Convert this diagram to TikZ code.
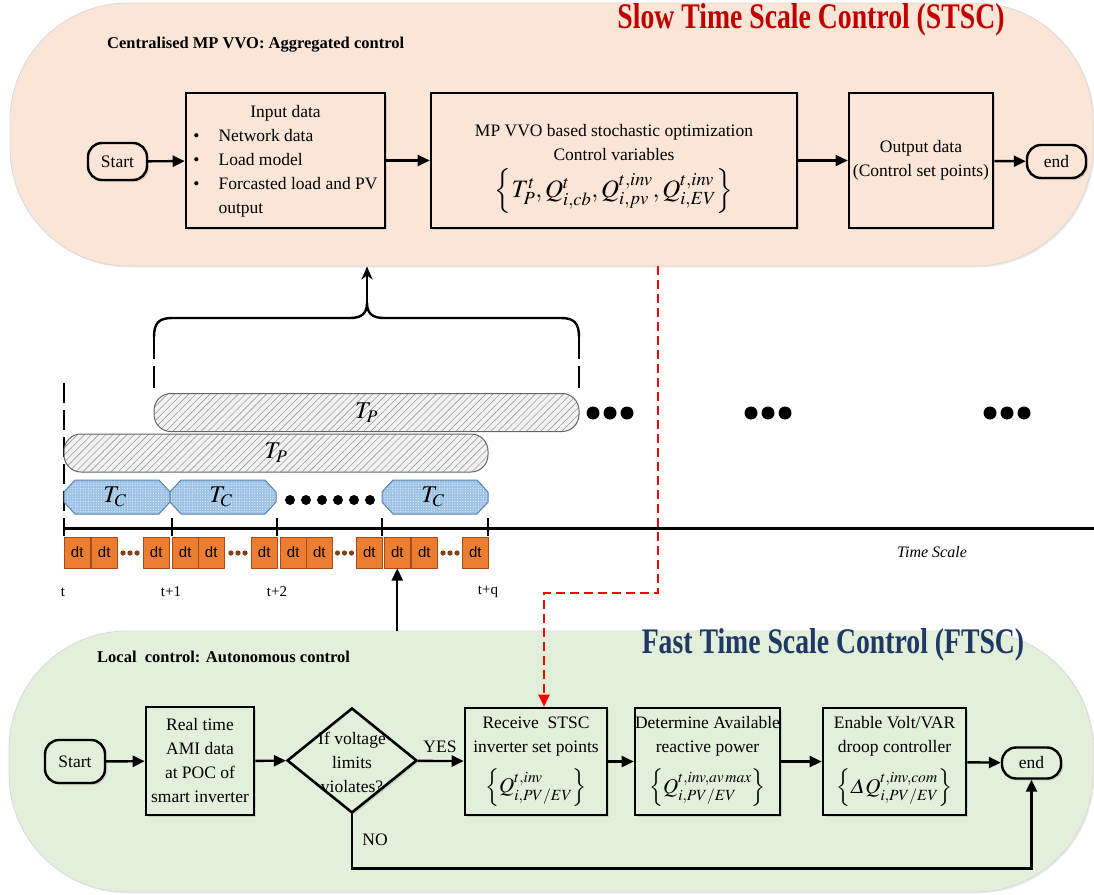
\documentclass[tikz,border=0pt]{standalone}
\usepackage{mathptmx}
\usepackage[no-math]{fontspec}
\setmainfont{Liberation Serif}
\newfontfamily\titlefont{Liberation Serif}[FakeStretch=0.77]
\newfontfamily\sansdt{Liberation Sans}
\DeclareMathSymbol{\itDelta}{\mathord}{letters}{"01}
\usetikzlibrary{shapes.geometric,arrows.meta,patterns.meta,calc,shadows}
\definecolor{peach}{HTML}{FBE5D6}
\definecolor{lgreen}{HTML}{E2EFDA}
\definecolor{stscred}{HTML}{C00000}
\definecolor{ftscblue}{HTML}{1F3864}
\definecolor{dtorange}{HTML}{ED7D31}
\definecolor{dtborder}{HTML}{9E4F1B}
\definecolor{tcblue}{HTML}{9DC3E6}
\definecolor{tcborder}{HTML}{5B7FA8}
\newcommand\mainfs{\fontsize{17.5}{24}\selectfont}
\newcommand\dtfs{\sansdt\fontsize{15}{18}\selectfont}
\newcommand\tfs{\fontsize{24}{28}\selectfont}
\newcommand\formfs{\fontsize{21}{25}\selectfont}
\tikzset{
  panel/.style={draw=black!15, line width=0.8pt, rounded corners=118pt, inner sep=0pt,
    drop shadow={opacity=0.15, shadow xshift=1.5pt, shadow yshift=-1.5pt}},
  fbox/.style={draw, line width=2.6pt, inner sep=0pt, align=center, font=\mainfs,
    drop shadow={opacity=0.25, shadow xshift=2pt, shadow yshift=-2pt}},
  term/.style={draw, line width=2.4pt, rounded corners=14pt, inner sep=0pt, font=\mainfs,
    drop shadow={opacity=0.25, shadow xshift=2pt, shadow yshift=-2pt}},
  flow/.style={line width=2.4pt, -{Triangle[length=12pt,width=11pt]}},
  uparrow/.style={line width=2.4pt, -{Stealth[length=13pt,width=11pt,inset=4pt]}},
  reddash/.style={draw=red, line width=2.2pt, dash pattern=on 9pt off 5pt,
    -{Triangle[length=12pt,width=11pt]}},
  tpbar/.style={draw=black!60, line width=1pt, rounded corners=17pt, inner sep=0pt,
    preaction={fill=black!5},
    pattern={Lines[angle=45,distance=5pt,line width=0.6pt]}, pattern color=black!40,
    font=\tfs},
  tcshape/.style={draw=tcborder, line width=1pt, preaction={fill=tcblue},
    pattern={Dots[distance=2.6pt,radius=0.55pt]}, pattern color=white!85!tcblue},
  dtbox/.style={draw=dtborder, line width=1pt, fill=dtorange, minimum width=26.5pt,
    minimum height=31pt, inner sep=0pt, font=\dtfs},
  tlbl/.style={font=\fontsize{15}{18}\selectfont, inner sep=0pt},
  lbl/.style={font=\mainfs, inner sep=0pt},
}
\begin{document}
\begin{tikzpicture}[x=1pt,y=-1pt]
\useasboundingbox (0,0) rectangle (1094,894);

% ---------- panels ----------
\node[panel, fill=peach, minimum width=1083pt, minimum height=263pt] (stsc) at (551.5,134.5) {};
\node[panel, fill=lgreen, minimum width=1084pt, minimum height=261pt] (ftsc) at (551,761.5) {};

\node[font=\titlefont\bfseries\fontsize{36}{40}\selectfont, text=stscred, inner sep=0pt] (stsct) at (811,20) {Slow Time Scale Control (STSC)};
\node[font=\titlefont\bfseries\fontsize{36}{40}\selectfont, text=ftscblue, inner sep=0pt] (ftsct) at (833,645) {Fast Time Scale Control (FTSC)};
\node[font=\bfseries\fontsize{16.5}{20}\selectfont, anchor=west, inner sep=0pt] (cmp) at (107,45) {Centralised MP VVO: Aggregated control};
\node[font=\bfseries\fontsize{16.5}{20}\selectfont, anchor=west, inner sep=0pt] (loc) at (97,657) {Local\ \ control: Autonomous control};

% ---------- top flow ----------
\node[term, fill=peach, minimum width=59pt, minimum height=37pt] (startA) at (117.5,161.5) {Start};
\node[fbox, fill=peach, minimum width=199pt, minimum height=135pt] (inp) at (285.5,160.5)
  {\begin{tabular}{@{}l@{\hspace{19pt}}l@{}}
   \multicolumn{2}{c}{Input data}\\
   \textbullet & Network data\\
   \textbullet & Load model\\
   \textbullet & Forcasted load and PV\\
   & output
   \end{tabular}};
\node[fbox, fill=peach, minimum width=366pt, minimum height=135pt] (mpv) at (614,160.5) {};
\node[align=center, font=\mainfs, inner sep=0pt] (mpvt) at (614,169)
  {MP VVO based stochastic optimization\\ Control variables\\[7pt]
   {\fontsize{25}{28}\selectfont $\left\{T_P^t, Q_{i,cb}^t, Q_{i,pv}^{t,inv}, Q_{i,EV}^{t,inv}\right\}$}};
\node[fbox, fill=peach, minimum width=144pt, minimum height=135pt] (outp) at (921,160.5)
  {Output data\\(Control set points)};
\node[term, fill=peach, minimum width=59pt, minimum height=33pt] (endA) at (1056.5,161.5) {end};

\draw[flow] (startA) -- (inp);
\draw[flow] (inp) -- (mpv);
\draw[flow] (mpv) -- (outp);
\draw[flow] (outp) -- (endA);

% ---------- bottom flow ----------
\node[term, fill=lgreen, minimum width=60pt, minimum height=43pt] (startB) at (75,761.5) {Start};
\node[fbox, fill=lgreen, minimum width=108pt, minimum height=108pt] (rt) at (200,761)
  {Real time\\AMI data\\at POC of\\smart inverter};
\node[diamond, draw, line width=2.6pt, fill=lgreen, minimum width=130pt, minimum height=105pt,
  inner sep=0pt, drop shadow={opacity=0.25, shadow xshift=2pt, shadow yshift=-2pt}] (dia) at (352,760.5) {};
\node[lbl, align=center] (diat) at (352,762) {If voltage\\limits\\violates?};
\node[fbox, fill=lgreen, minimum width=142pt, minimum height=107pt] (rcv) at (536,761.5)
  {Receive\ \ STSC\\inverter set points\\[12pt]
   {\formfs $\left\{Q_{i,PV/EV}^{t,inv}\right\}$}};
\node[fbox, fill=lgreen, minimum width=141pt, minimum height=107pt] (det) at (707.5,761.5)
  {Determine Available\\reactive power\\[12pt]
   {\formfs $\left\{Q_{i,PV/EV}^{t,inv,av\,max}\right\}$}};
\node[fbox, fill=lgreen, minimum width=143pt, minimum height=107pt] (enb) at (894.5,761.5)
  {Enable Volt/VAR\\droop controller\\[12pt]
   {\formfs $\left\{\itDelta Q_{i,PV/EV}^{t,inv,com}\right\}$}};
\node[term, fill=lgreen, minimum width=59pt, minimum height=31pt] (endB) at (1031.5,763) {end};

\draw[flow] (startB) -- (rt);
\draw[flow] (rt) -- (dia);
\draw[flow] (dia) -- (rcv);
\draw[flow] (rcv) -- (det);
\draw[flow] (det) -- (enb);
\draw[flow] (enb) -- (endB);
\draw[flow] (dia.south) -- ++(0,54) -| (endB.south);
\node[lbl] (yes) at (440,747) {YES};
\node[lbl] (no) at (375,840) {NO};

% ---------- time scale ----------
\draw[line width=2.4pt, dash pattern=on 20pt off 7pt] (64,383) -- (64,528);
\draw[line width=2.4pt, dash pattern=on 22pt off 7pt] (154,337) -- (154,392);
\draw[line width=2.4pt, dash pattern=on 22pt off 7pt] (579,337) -- (579,392);
\draw[line width=2.4pt, line join=round]
  (154,337) .. controls (154,323) and (159,318) .. (172,318) -- (350,318)
  .. controls (362,318) and (367,313) .. (367,303)
  .. controls (367,313) and (372,318) .. (384,318) -- (561,318)
  .. controls (574,318) and (579,323) .. (579,337);
\coordinate (bt) at (367,303);
\draw[uparrow] (bt) -- (bt |- stsc.south);

\node[tpbar, minimum width=425pt, minimum height=38pt] (tp2) at (366.5,412.5) {$T_P$};
\node[tpbar, minimum width=424pt, minimum height=38pt] (tp1) at (276,453) {$T_P$};

\foreach \a/\b/\n in {64/170/1,170/276/2,382/488/3}{
  \path[tcshape] (\a,492) -- ({\a+11},480) -- ({\b-11},480) -- (\b,492) -- (\b,502)
     -- ({\b-11},514) -- ({\a+11},514) -- (\a,502) -- cycle;
  \node[font=\tfs, inner sep=0pt] (tc\n) at ({(\a+\b)/2-2},497) {$T_C$};
}
\foreach \x in {290,306,322,338,354,370} \fill (\x,500) circle (5pt);
\foreach \x in {593,610,627,751,768,785,990,1007,1024} \fill (\x,413) circle (6.5pt);

\draw[line width=3pt] (64,528) -- (1094,528);
\foreach \x in {64,172,277,382,488} \draw[line width=2.4pt] (\x,518) -- (\x,536);

\foreach \x [count=\i] in {64,91,143,172,198,251,280,306,356,384,411,462}
  \node[dtbox] (dt\i) at ({\x+13.25},552.5) {dt};
\foreach \m in {130,238,344.5,450}
  \foreach \d in {-7,0,7} \fill[dtborder!80!black] ({\m+\d},553) circle (2.6pt);

\node[tlbl] (lt0) at (63,592) {t};
\node[tlbl] (lt1) at (171,592) {t+1};
\node[tlbl] (lt2) at (277,592) {t+2};
\node[tlbl] (ltq) at (488,592) {t+q};
\node[font=\itshape\fontsize{16}{18}\selectfont, inner sep=0pt] (tsl) at (932,552) {Time Scale};

\draw[flow] (dt10.south |- ftsc.north) -- (dt10.south);

\coordinate (redA) at (658,266);
\coordinate (redK) at (658,593);
\draw[reddash] (redA) -- (redK) -| ([xshift=8pt]rcv.north);
\end{tikzpicture}
\end{document}
